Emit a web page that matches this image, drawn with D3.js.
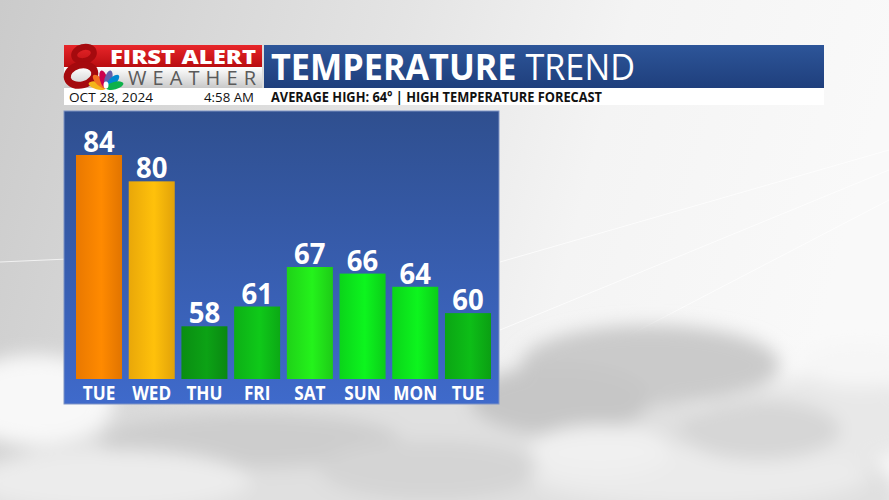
<!DOCTYPE html>
<html>
<head>
<meta charset="utf-8">
<script src="https://cdn.jsdelivr.net/npm/d3@7"></script>
<style>
  body { margin: 0; overflow: hidden; background: #e6e6e6; }
  svg { display: block; font-family: "Open Sans", "DejaVu Sans", sans-serif; }
</style>
</head>
<body>
<div id="chart"></div>
<script>
// forecast highs
var days = ["TUE", "WED", "THU", "FRI", "SAT", "SUN", "MON", "TUE"];
var highs = [84, 80, 58, 61, 67, 66, 64, 60];
var barColors = ["#ff8300", "#ffb70a", "#0b9a14", "#0ebf18", "#22e61a", "#0ce81c", "#0ce81c", "#0cb416"];

var dateText = "OCT 28, 2024";
var timeText = "4:58 AM";
var subText = "AVERAGE HIGH: 64° | HIGH TEMPERATURE FORECAST";

var W = 889, H = 500;

var svg = d3.select("#chart").append("svg")
    .attr("width", W)
    .attr("height", H);

var defs = svg.append("defs");

// background sky
var bg = defs.append("linearGradient").attr("id", "bg").attr("x1", 0).attr("y1", 0).attr("x2", 1).attr("y2", 0.15);
bg.append("stop").attr("offset", "0%").attr("stop-color", "#cbcbcb");
bg.append("stop").attr("offset", "45%").attr("stop-color", "#e4e4e4");
bg.append("stop").attr("offset", "70%").attr("stop-color", "#f4f4f4");
bg.append("stop").attr("offset", "100%").attr("stop-color", "#f9f9f9");

var blur = defs.append("filter").attr("id", "blur").attr("x", "-30%").attr("y", "-30%").attr("width", "160%").attr("height", "160%");
blur.append("feGaussianBlur").attr("stdDeviation", 9);

svg.append("rect").attr("width", W).attr("height", H).attr("fill", "url(#bg)");

// faint streaks in the sky
var streaks = [[0, 262, 500, 240], [500, 262, 889, 150], [500, 330, 889, 170], [620, 340, 889, 200]];
svg.append("g").selectAll("line").data(streaks).enter().append("line")
    .attr("x1", function(d){ return d[0]; }).attr("y1", function(d){ return d[1]; })
    .attr("x2", function(d){ return d[2]; }).attr("y2", function(d){ return d[3]; })
    .attr("stroke", "#ffffff").attr("stroke-opacity", 0.7).attr("stroke-width", 1);

// clouds (decorative)
var clouds = svg.append("g").attr("filter", "url(#blur)");
var cloudBlobs = [
  [440, 500, 460, 110, "#e0e0e0"], [650, 365, 130, 40, "#cacaca"], [560, 400, 90, 35, "#c6c6c6"],
  [830, 420, 100, 45, "#e8e8e8"], [35, 400, 80, 45, "#f8f8f8"], [250, 440, 150, 28, "#cdcdcd"],
  [110, 480, 140, 30, "#ececec"], [430, 470, 110, 30, "#d4d4d4"], [700, 475, 170, 30, "#ebebeb"],
  [860, 365, 60, 22, "#f6f6f6"], [760, 430, 80, 30, "#d6d6d6"], [600, 450, 70, 25, "#f0f0f0"]
];
clouds.selectAll("ellipse").data(cloudBlobs).enter().append("ellipse")
    .attr("cx", function(d){ return d[0]; })
    .attr("cy", function(d){ return d[1]; })
    .attr("rx", function(d){ return d[2]; })
    .attr("ry", function(d){ return d[3]; })
    .attr("fill", function(d){ return d[4]; });

// ---- header ----
var redG = defs.append("linearGradient").attr("id", "redG").attr("x1", 0).attr("y1", 0).attr("x2", 0).attr("y2", 1);
redG.append("stop").attr("offset", "0%").attr("stop-color", "#e8262a");
redG.append("stop").attr("offset", "100%").attr("stop-color", "#b90d10");
var grayG = defs.append("linearGradient").attr("id", "grayG").attr("x1", 0).attr("y1", 0).attr("x2", 0).attr("y2", 1);
grayG.append("stop").attr("offset", "0%").attr("stop-color", "#ffffff");
grayG.append("stop").attr("offset", "100%").attr("stop-color", "#c9c9c9");
var titleG = defs.append("linearGradient").attr("id", "titleG").attr("x1", 0).attr("y1", 0).attr("x2", 0).attr("y2", 1);
titleG.append("stop").attr("offset", "0%").attr("stop-color", "#2d5599");
titleG.append("stop").attr("offset", "100%").attr("stop-color", "#1f3f7c");

var header = svg.append("g");
header.append("rect").attr("x", 64).attr("y", 45).attr("width", 198).attr("height", 22).attr("fill", "url(#redG)");
header.append("rect").attr("x", 64).attr("y", 67).attr("width", 198).attr("height", 21).attr("fill", "url(#grayG)");
header.append("rect").attr("x", 264).attr("y", 45).attr("width", 560).attr("height", 43).attr("fill", "url(#titleG)");
header.append("rect").attr("x", 64).attr("y", 88).attr("width", 760).attr("height", 17).attr("fill", "#ffffff");

// "8" logo drawn as two loops
var eight = header.append("g").attr("fill", "none").attr("stroke", "#a50a0e");
eight.append("ellipse").attr("cx", 84).attr("cy", 54).attr("rx", 10).attr("ry", 7).attr("stroke-width", 6)
    .attr("transform", "rotate(-15,84,54)");
eight.append("ellipse").attr("cx", 81).attr("cy", 75).attr("rx", 14).attr("ry", 10).attr("stroke-width", 7)
    .attr("transform", "rotate(-15,81,75)");

// peacock feathers
var feathers = ["#f4b41a", "#f37021", "#cc004c", "#6460aa", "#0089d0", "#0db14b"];
var pc = header.append("g").attr("transform", "translate(106,88)");
pc.selectAll("ellipse").data(feathers).enter().append("ellipse")
    .attr("cx", 0).attr("cy", -9)
    .attr("rx", 3.8).attr("ry", 9)
    .attr("fill", function(d){ return d; })
    .attr("transform", function(d, i){ return "rotate(" + (-75 + i * 30) + ")"; });
pc.append("ellipse").attr("cx", 0).attr("cy", -3).attr("rx", 2.5).attr("ry", 3.5).attr("fill", "#ffffff");

header.append("text").attr("x", 256).attr("y", 64).attr("text-anchor", "end")
    .attr("font-size", 20).attr("font-weight", 800).attr("fill", "#ffffff")
    .attr("textLength", 146).attr("lengthAdjust", "spacingAndGlyphs")
    .text("FIRST ALERT");
header.append("text").attr("x", 256).attr("y", 85).attr("text-anchor", "end")
    .attr("font-size", 20).attr("font-weight", 400).attr("fill", "#5a5a5a")
    .attr("textLength", 128).attr("lengthAdjust", "spacing")
    .text("WEATHER");

var title = header.append("text").attr("x", 271).attr("y", 80)
    .attr("font-size", 36).attr("fill", "#ffffff")
    .attr("textLength", 364).attr("lengthAdjust", "spacingAndGlyphs");
title.append("tspan").attr("font-weight", 700).text("TEMPERATURE");
title.append("tspan").attr("font-weight", 400).text(" TREND");

header.append("text").attr("x", 69).attr("y", 102)
    .attr("font-size", 13.5).attr("fill", "#111").attr("textLength", 84).attr("lengthAdjust", "spacingAndGlyphs")
    .text(dateText);
header.append("text").attr("x", 254).attr("y", 102).attr("text-anchor", "end")
    .attr("font-size", 13.5).attr("fill", "#111").attr("textLength", 50).attr("lengthAdjust", "spacingAndGlyphs")
    .text(timeText);
header.append("text").attr("x", 271).attr("y", 102)
    .attr("font-size", 13.5).attr("font-weight", 700).attr("fill", "#111")
    .attr("textLength", 331).attr("lengthAdjust", "spacingAndGlyphs")
    .text(subText);

// ---- chart panel ----
var panelG = defs.append("linearGradient").attr("id", "panelG").attr("x1", 0).attr("y1", 0).attr("x2", 0).attr("y2", 1);
panelG.append("stop").attr("offset", "0%").attr("stop-color", "#2f4f8f");
panelG.append("stop").attr("offset", "100%").attr("stop-color", "#3f6acb");

var panel = { x: 64, y: 111, w: 435, h: 293 };
svg.append("rect").attr("x", panel.x).attr("y", panel.y).attr("width", panel.w).attr("height", panel.h)
    .attr("fill", "url(#panelG)").attr("stroke", "#7f93c4").attr("stroke-width", 1);

var x = d3.scaleBand().domain(d3.range(days.length)).range([76, 491]).paddingInner(0.127).paddingOuter(0);
var y = d3.scaleLinear().domain([50, 84]).range([379, 155]);

// horizontal shading per bar (darker edges, bright middle)
barColors.forEach(function(c, i) {
  var g = defs.append("linearGradient").attr("id", "bar" + i).attr("x1", 0).attr("y1", 0).attr("x2", 1).attr("y2", 0);
  var base = d3.color(c);
  g.append("stop").attr("offset", "0%").attr("stop-color", base.darker(0.25));
  g.append("stop").attr("offset", "55%").attr("stop-color", base.brighter(0.15));
  g.append("stop").attr("offset", "100%").attr("stop-color", base.darker(0.35));
});

var bars = svg.append("g");
bars.selectAll("rect").data(highs).enter().append("rect")
    .attr("x", function(d, i){ return x(i); })
    .attr("y", function(d){ return y(d); })
    .attr("width", x.bandwidth())
    .attr("height", function(d){ return y(50) - y(d); })
    .attr("fill", function(d, i){ return "url(#bar" + i + ")"; });

bars.selectAll("text.val").data(highs).enter().append("text")
    .attr("class", "val")
    .attr("transform", function(d, i){
      return "translate(" + (x(i) + x.bandwidth() / 2) + "," + (y(d) - 3) + ") scale(0.95,1)";
    })
    .attr("text-anchor", "middle")
    .attr("font-size", 29).attr("font-weight", 700).attr("fill", "#ffffff")
    .text(function(d){ return d; });

var xAxis = svg.append("g").attr("transform", "translate(0,379)")
    .call(d3.axisBottom(x).tickSize(0).tickFormat(function(i){ return days[i]; }));
xAxis.select(".domain").remove();
xAxis.selectAll("text")
    .attr("dy", 0).attr("y", 0)
    .attr("transform", "translate(0,21) scale(0.86,1)")
    .attr("font-family", "'Open Sans', sans-serif")
    .attr("font-size", 20).attr("font-weight", 700).attr("fill", "#ffffff");
</script>
</body>
</html>
